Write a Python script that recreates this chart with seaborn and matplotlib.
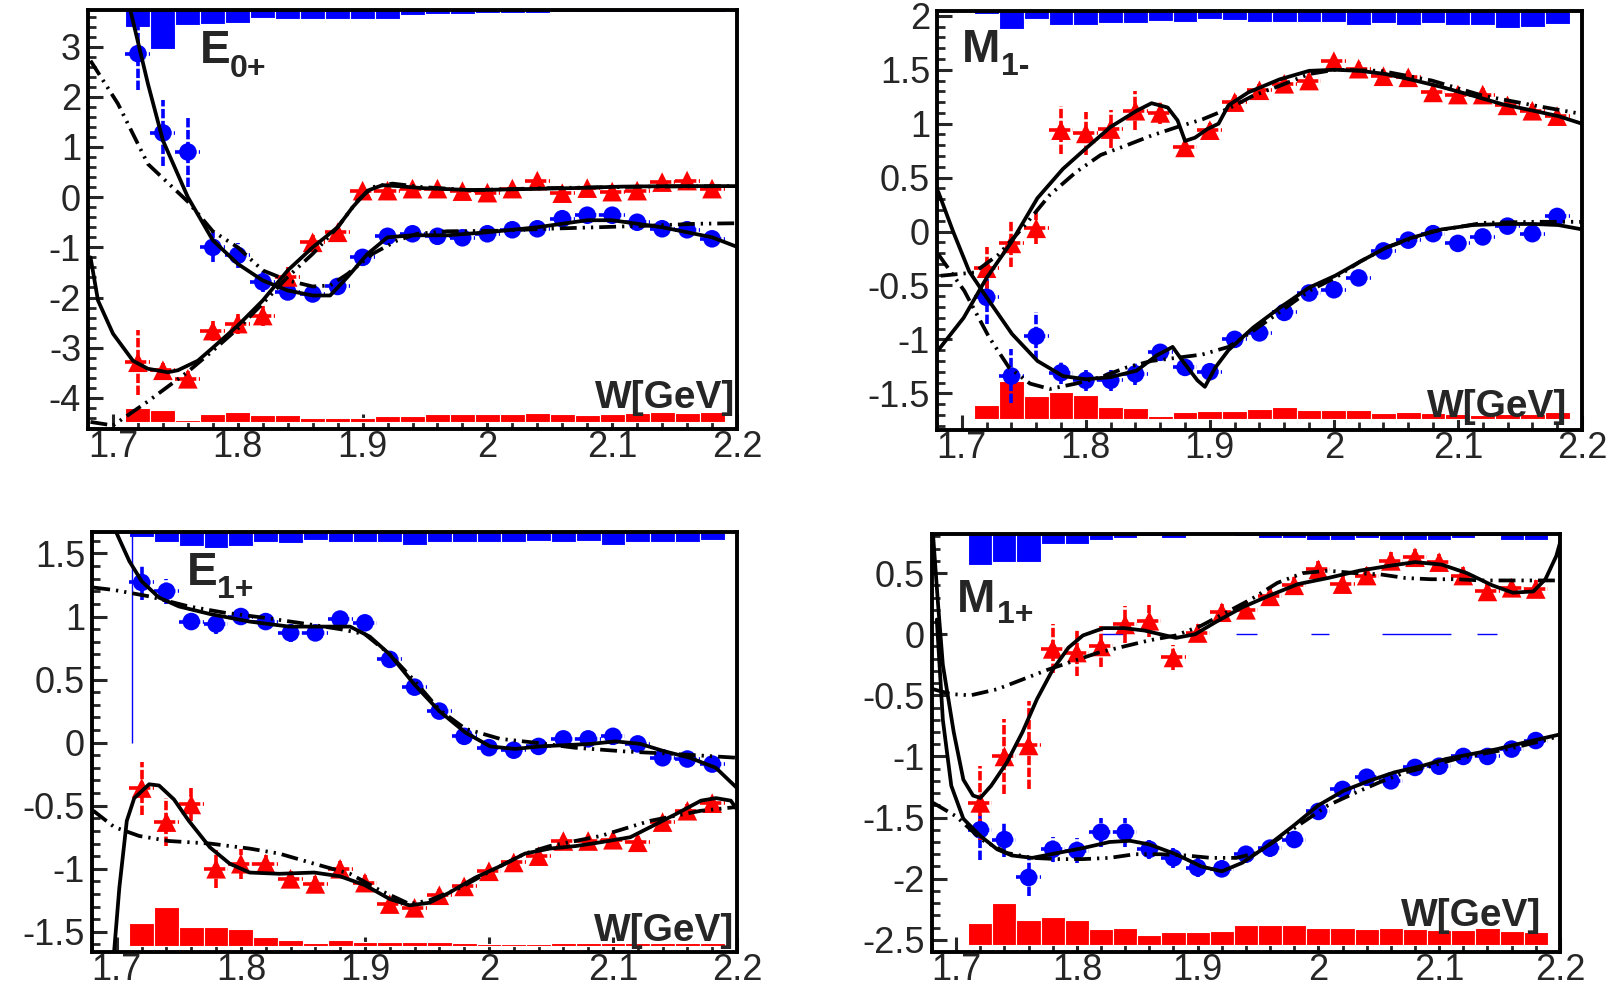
import matplotlib
matplotlib.use("Agg")
import matplotlib.pyplot as plt
import seaborn as sns
from matplotlib.ticker import MultipleLocator, FuncFormatter

# ---------------- data ----------------
W = [1.72, 1.74, 1.76, 1.78, 1.80, 1.82, 1.84, 1.86, 1.88, 1.90, 1.92, 1.94,
     1.96, 1.98, 2.00, 2.02, 2.04, 2.06, 2.08, 2.10, 2.12, 2.14, 2.16, 2.18]

# ---- E0+ ----
E0_blue = [2.86, 1.28, 0.90, -1.0, -1.16, -1.69, -1.89, -1.93, -1.78, -1.20, -0.78, -0.73,
           -0.78, -0.81, -0.73, -0.65, -0.63, -0.43, -0.36, -0.36, -0.50, -0.63, -0.65, -0.83]
E0_blue_err = [0.73, 0.65, 0.70, 0.30, 0.25, 0.20, 0.15, 0.12, 0.12, 0.12, 0.10, 0.08,
               0.08, 0.08, 0.08, 0.08, 0.08, 0.08, 0.08, 0.08, 0.08, 0.08, 0.08, 0.08]
E0_red = [-3.29, -3.45, -3.62, -2.66, -2.52, -2.36, -1.59, -0.90, -0.70, 0.13, 0.13, 0.17,
          0.17, 0.12, 0.09, 0.17, 0.33, 0.08, 0.18, 0.11, 0.13, 0.30, 0.33, 0.17]
E0_red_err = [0.65, 0.15, 0.15, 0.20, 0.20, 0.20, 0.20, 0.15, 0.12, 0.10, 0.08, 0.08,
              0.08, 0.08, 0.08, 0.08, 0.08, 0.08, 0.08, 0.08, 0.08, 0.08, 0.08, 0.08]
E0_sys_blue = [0.33, 0.78, 0.30, 0.28, 0.25, 0.15, 0.17, 0.17, 0.17, 0.17, 0.17, 0.10,
               0.08, 0.07, 0.05, 0.05, 0.05, 0.04, 0.04, 0.03, 0.03, 0.03, 0.03, 0.03]
E0_sys_red = [0.27, 0.24, 0.04, 0.15, 0.19, 0.13, 0.13, 0.07, 0.07, 0.07, 0.12, 0.12,
              0.15, 0.15, 0.15, 0.15, 0.17, 0.15, 0.13, 0.15, 0.17, 0.20, 0.17, 0.20]
E0_sys_base = -4.48
E0_blue_fit_x = [1.710, 1.714, 1.728, 1.74, 1.76, 1.78, 1.80, 1.82, 1.84, 1.86, 1.874, 1.888, 1.904,
                 1.92, 1.94, 1.968, 2.0, 2.04, 2.08, 2.10, 2.14, 2.18, 2.20]
E0_blue_fit_y = [4.2, 3.72, 2.26, 1.13, 0.0, -0.86, -1.33, -1.66, -1.86, -1.96, -1.96, -1.59, -1.13,
                 -0.80, -0.76, -0.76, -0.70, -0.60, -0.46, -0.46, -0.60, -0.80, -0.99]
E0_blue_alt_x = [1.682, 1.704, 1.728, 1.76, 1.78, 1.80, 1.82, 1.84, 1.86, 1.874, 1.888, 1.908,
                 1.928, 1.944, 1.968, 2.008, 2.048, 2.088, 2.128, 2.168, 2.20]
E0_blue_alt_y = [2.72, 1.86, 0.66, -0.09, -0.68, -1.0, -1.46, -1.66, -1.78, -1.76, -1.53, -1.13,
                 -0.86, -0.73, -0.68, -0.67, -0.63, -0.60, -0.57, -0.53, -0.52]
E0_red_fit_x = [1.682, 1.688, 1.70, 1.716, 1.728, 1.744, 1.752, 1.768, 1.78, 1.80, 1.82, 1.84,
                1.86, 1.88, 1.892, 1.904, 1.916, 1.928, 1.948, 1.988, 2.028, 2.068, 2.108, 2.148, 2.20]
E0_red_fit_y = [-1.2, -2.06, -2.72, -3.26, -3.42, -3.49, -3.45, -3.26, -3.0, -2.56, -2.06, -1.46,
                -1.0, -0.6, -0.2, 0.13, 0.24, 0.22, 0.18, 0.14, 0.16, 0.18, 0.21, 0.22, 0.22]
E0_red_alt_x = [1.682, 1.70, 1.728, 1.76, 1.78, 1.80, 1.82, 1.84, 1.86, 1.88, 1.896, 1.908,
                1.924, 1.948, 1.988, 2.048, 2.128, 2.20]
E0_red_alt_y = [-4.48, -4.55, -4.07, -3.48, -3.06, -2.62, -2.12, -1.59, -1.13, -0.6, -0.07, 0.2,
                0.27, 0.2, 0.14, 0.18, 0.21, 0.22]

# ---- M1- ----
M1m_blue = [-0.61, -1.34, -0.97, -1.31, -1.38, -1.38, -1.32, -1.12, -1.26, -1.30, -1.0, -0.94,
            -0.75, -0.57, -0.54, -0.43, -0.18, -0.08, -0.02, -0.11, -0.05, 0.05, -0.02, 0.14]
M1m_blue_err = [0.25, 0.25, 0.22, 0.10, 0.10, 0.10, 0.10, 0.08, 0.08, 0.08, 0.08, 0.07,
                0.07, 0.06, 0.06, 0.06, 0.06, 0.06, 0.06, 0.06, 0.06, 0.06, 0.05, 0.05]
M1m_red = [-0.34, -0.11, 0.03, 0.94, 0.91, 0.95, 1.12, 1.10, 0.78, 0.94, 1.20, 1.31,
           1.37, 1.40, 1.58, 1.51, 1.44, 1.43, 1.29, 1.27, 1.27, 1.17, 1.12, 1.07]
M1m_red_err = [0.20, 0.22, 0.15, 0.22, 0.20, 0.18, 0.18, 0.10, 0.08, 0.07, 0.07, 0.06,
               0.06, 0.06, 0.06, 0.06, 0.06, 0.06, 0.06, 0.06, 0.06, 0.06, 0.06, 0.06]
M1m_sys_blue = [0.03, 0.17, 0.07, 0.13, 0.13, 0.11, 0.11, 0.09, 0.10, 0.07, 0.08, 0.10,
                0.10, 0.10, 0.10, 0.13, 0.11, 0.13, 0.11, 0.13, 0.13, 0.16, 0.15, 0.12]
M1m_sys_red = [0.13, 0.35, 0.21, 0.25, 0.22, 0.11, 0.10, 0.02, 0.06, 0.07, 0.07, 0.09,
               0.11, 0.08, 0.08, 0.08, 0.05, 0.06, 0.05, 0.04, 0.03, 0.04, 0.04, 0.06]
M1m_sys_base = -1.735
M1m_red_fit_x = [1.681, 1.7015, 1.72, 1.7405, 1.761, 1.7815, 1.80, 1.82, 1.841, 1.853, 1.866, 1.874,
                 1.88, 1.888, 1.898, 1.907, 1.915, 1.931, 1.956, 1.98, 2.001, 2.021, 2.042, 2.062,
                 2.087, 2.112, 2.136, 2.161, 2.181, 2.2]
M1m_red_fit_y = [-1.10, -0.80, -0.43, -0.09, 0.31, 0.58, 0.77, 0.97, 1.12, 1.19, 1.15, 1.03,
                 0.84, 0.87, 0.95, 1.0, 1.17, 1.29, 1.41, 1.49, 1.50, 1.49, 1.46, 1.41,
                 1.34, 1.26, 1.18, 1.12, 1.07, 1.0]
M1m_red_alt_x = [1.683, 1.71, 1.73, 1.751, 1.771, 1.792, 1.812, 1.833, 1.853, 1.874, 1.894, 1.915,
                 1.935, 1.956, 1.98, 2.001, 2.038, 2.079, 2.12, 2.161, 2.2]
M1m_red_alt_y = [-0.41, -0.38, -0.21, 0.06, 0.34, 0.55, 0.71, 0.80, 0.89, 0.97, 1.04, 1.14,
                 1.26, 1.35, 1.46, 1.50, 1.49, 1.40, 1.26, 1.17, 1.09]
M1m_blue_fit_x = [1.681, 1.693, 1.706, 1.72, 1.7405, 1.761, 1.7815, 1.80, 1.82, 1.841, 1.857, 1.87,
                  1.878, 1.89, 1.896, 1.9045, 1.915, 1.935, 1.956, 1.98, 2.001, 2.021, 2.042, 2.062,
                  2.087, 2.112, 2.136, 2.161, 2.181, 2.2]
M1m_blue_fit_y = [0.37, 0.0, -0.37, -0.61, -0.95, -1.20, -1.34, -1.37, -1.35, -1.29, -1.15, -1.07,
                  -1.20, -1.38, -1.44, -1.26, -1.10, -0.89, -0.71, -0.52, -0.41, -0.28, -0.15, -0.06,
                  0.02, 0.06, 0.07, 0.07, 0.06, 0.02]
M1m_blue_alt_x = [1.681, 1.702, 1.722, 1.738, 1.755, 1.771, 1.792, 1.812, 1.833, 1.853, 1.874, 1.894,
                  1.915, 1.935, 1.956, 1.98, 2.001, 2.021, 2.042, 2.079, 2.12, 2.161, 2.2]
M1m_blue_alt_y = [-0.21, -0.55, -0.98, -1.26, -1.41, -1.46, -1.41, -1.35, -1.26, -1.20, -1.17, -1.14,
                  -1.07, -0.92, -0.75, -0.55, -0.43, -0.28, -0.15, 0.0, 0.08, 0.09, 0.09]

# ---- E1+ ----
E1p_blue = [1.27, 1.20, 0.96, 0.94, 1.0, 0.96, 0.87, 0.87, 0.98, 0.95, 0.66, 0.44,
            0.25, 0.05, -0.04, -0.06, -0.03, 0.03, 0.03, 0.05, -0.01, -0.12, -0.13, -0.17]
E1p_blue_err = [0.14, 0.10, 0.07, 0.08, 0.07, 0.07, 0.07, 0.06, 0.05, 0.05, 0.05, 0.05,
                0.05, 0.05, 0.05, 0.05, 0.05, 0.05, 0.05, 0.05, 0.05, 0.05, 0.05, 0.05]
E1p_red = [-0.36, -0.63, -0.49, -1.0, -0.96, -0.96, -1.08, -1.12, -1.0, -1.11, -1.28, -1.31,
           -1.21, -1.14, -1.02, -0.95, -0.90, -0.78, -0.78, -0.77, -0.79, -0.63, -0.54, -0.48]
E1p_red_err = [0.21, 0.19, 0.13, 0.15, 0.12, 0.07, 0.06, 0.06, 0.06, 0.06, 0.05, 0.05,
               0.05, 0.05, 0.05, 0.05, 0.05, 0.05, 0.05, 0.05, 0.05, 0.05, 0.05, 0.05]
E1p_sys_blue = [0.04, 0.08, 0.11, 0.13, 0.11, 0.08, 0.09, 0.06, 0.08, 0.08, 0.08, 0.10,
                0.08, 0.08, 0.08, 0.08, 0.07, 0.08, 0.07, 0.10, 0.08, 0.08, 0.08, 0.06]
E1p_sys_red = [0.18, 0.31, 0.15, 0.15, 0.13, 0.07, 0.045, 0.02, 0.045, 0.03, 0.03, 0.03,
               0.03, 0.02, 0.01, 0.01, 0.01, 0.02, 0.02, 0.02, 0.02, 0.02, 0.02, 0.02]
E1p_sys_base = -1.61
E1p_blue_fit_x = [1.698, 1.71, 1.72, 1.734, 1.75, 1.775, 1.807, 1.839, 1.863, 1.888, 1.904, 1.92,
                  1.94, 1.96, 1.981, 2.001, 2.021, 2.041, 2.061, 2.082, 2.102, 2.122, 2.142, 2.162,
                  2.183, 2.2]
E1p_blue_fit_y = [1.70, 1.44, 1.28, 1.15, 1.08, 1.02, 0.96, 0.92, 0.92, 0.92, 0.84, 0.70,
                  0.46, 0.25, 0.08, -0.03, -0.05, -0.03, -0.02, -0.01, 0.01, -0.01, -0.07, -0.12,
                  -0.2, -0.36]
E1p_blue_alt_x = [1.681, 1.698, 1.726, 1.758, 1.787, 1.819, 1.847, 1.88, 1.90, 1.92, 1.94, 1.96,
                  1.981, 2.009, 2.037, 2.069, 2.11, 2.15, 2.2]
E1p_blue_alt_y = [1.23, 1.21, 1.16, 1.08, 1.03, 0.99, 0.95, 0.90, 0.86, 0.70, 0.49, 0.26,
                  0.11, 0.03, 0.0, -0.04, -0.07, -0.09, -0.12]
E1p_red_fit_x = [1.697, 1.702, 1.708, 1.714, 1.726, 1.734, 1.746, 1.758, 1.775, 1.791, 1.807, 1.831,
                 1.859, 1.88, 1.90, 1.92, 1.936, 1.952, 1.968, 1.989, 2.009, 2.029, 2.049, 2.07,
                 2.09, 2.114, 2.13, 2.15, 2.171, 2.183, 2.195, 2.2]
E1p_red_fit_y = [-1.75, -1.15, -0.62, -0.44, -0.33, -0.34, -0.45, -0.62, -0.83, -0.96, -1.03, -1.04,
                 -1.03, -1.06, -1.13, -1.24, -1.29, -1.27, -1.19, -1.07, -0.98, -0.88, -0.84, -0.82,
                 -0.79, -0.75, -0.67, -0.57, -0.46, -0.44, -0.46, -0.53]
E1p_red_alt_x = [1.681, 1.698, 1.718, 1.742, 1.775, 1.807, 1.831, 1.859, 1.888, 1.912, 1.936, 1.952,
                 1.977, 2.001, 2.029, 2.049, 2.09, 2.13, 2.171, 2.2]
E1p_red_alt_y = [-0.54, -0.67, -0.74, -0.78, -0.80, -0.84, -0.88, -0.96, -1.04, -1.17, -1.28, -1.25,
                 -1.15, -1.02, -0.88, -0.82, -0.74, -0.62, -0.54, -0.51]

# ---- M1+ ----
M1p_blue = [-1.60, -1.68, -1.99, -1.76, -1.77, -1.62, -1.62, -1.76, -1.83, -1.91, -1.92, -1.80,
            -1.75, -1.68, -1.45, -1.27, -1.17, -1.20, -1.09, -1.08, -1.0, -1.0, -0.94, -0.87]
M1p_blue_err = [0.25, 0.14, 0.15, 0.10, 0.10, 0.12, 0.12, 0.08, 0.08, 0.08, 0.07, 0.07,
                0.07, 0.07, 0.07, 0.07, 0.07, 0.06, 0.06, 0.06, 0.06, 0.06, 0.06, 0.06]
M1p_red = [-1.38, -1.0, -0.91, -0.12, -0.15, -0.10, 0.08, 0.11, -0.19, 0.01, 0.18, 0.20,
           0.31, 0.40, 0.53, 0.41, 0.48, 0.60, 0.63, 0.59, 0.48, 0.35, 0.38, 0.37]
M1p_red_err = [0.30, 0.31, 0.36, 0.20, 0.19, 0.17, 0.15, 0.13, 0.10, 0.07, 0.07, 0.07,
               0.07, 0.07, 0.07, 0.07, 0.07, 0.07, 0.07, 0.07, 0.07, 0.07, 0.07, 0.07]
M1p_sys_blue = [0.25, 0.23, 0.23, 0.08, 0.08, 0.05, 0.035, 0.02, 0.035, 0.01, 0.01, 0.02,
                0.035, 0.035, 0.05, 0.045, 0.035, 0.05, 0.05, 0.05, 0.035, 0.02, 0.045, 0.045]
M1p_sys_red = [0.18, 0.34, 0.20, 0.23, 0.20, 0.13, 0.14, 0.08, 0.10, 0.10, 0.11, 0.16,
               0.16, 0.16, 0.14, 0.14, 0.13, 0.14, 0.13, 0.12, 0.12, 0.14, 0.11, 0.10]
M1p_sys_base = -2.54
M1p_red_fit_x = [1.681, 1.685, 1.689, 1.698, 1.706, 1.714, 1.72, 1.729, 1.742, 1.755, 1.767, 1.78,
                 1.793, 1.805, 1.822, 1.839, 1.856, 1.869, 1.882, 1.898, 1.915, 1.937, 1.958, 1.983,
                 2.008, 2.034, 2.059, 2.08, 2.102, 2.123, 2.144, 2.161, 2.178, 2.188, 2.197, 2.201]
M1p_red_fit_y = [0.80, 0.25, -0.25, -0.80, -1.19, -1.32, -1.34, -1.24, -1.05, -0.80, -0.53, -0.29,
                 -0.11, -0.01, 0.05, 0.05, 0.03, 0.0, -0.03, 0.0, 0.10, 0.22, 0.31, 0.41,
                 0.46, 0.52, 0.56, 0.59, 0.57, 0.50, 0.40, 0.34, 0.35, 0.45, 0.64, 0.78]
M1p_red_alt_x = [1.681, 1.696, 1.712, 1.734, 1.755, 1.776, 1.797, 1.818, 1.839, 1.86, 1.882, 1.903,
                 1.924, 1.945, 1.966, 1.987, 2.008, 2.03, 2.051, 2.072, 2.093, 2.114, 2.135, 2.157,
                 2.178, 2.201]
M1p_red_alt_y = [-0.45, -0.49, -0.50, -0.45, -0.37, -0.29, -0.22, -0.15, -0.10, -0.05, -0.01, 0.07,
                 0.18, 0.29, 0.42, 0.50, 0.52, 0.50, 0.49, 0.46, 0.45, 0.45, 0.44, 0.44,
                 0.44, 0.44]
M1p_blue_fit_x = [1.684, 1.689, 1.696, 1.706, 1.72, 1.734, 1.746, 1.763, 1.784, 1.805, 1.827, 1.844,
                  1.86, 1.882, 1.903, 1.92, 1.937, 1.958, 1.979, 2.0, 2.021, 2.042, 2.063, 2.085,
                  2.106, 2.127, 2.148, 2.169, 2.2]
M1p_blue_fit_y = [0.12, -0.70, -1.24, -1.51, -1.65, -1.76, -1.81, -1.83, -1.79, -1.75, -1.70, -1.69,
                  -1.72, -1.80, -1.90, -1.94, -1.87, -1.73, -1.57, -1.40, -1.28, -1.20, -1.13, -1.08,
                  -1.02, -0.98, -0.94, -0.89, -0.82]
M1p_blue_alt_x = [1.681, 1.70, 1.721, 1.742, 1.763, 1.784, 1.805, 1.827, 1.848, 1.869, 1.89, 1.911,
                  1.932, 1.949, 1.966, 1.987, 2.008, 2.03, 2.051, 2.072, 2.093, 2.114, 2.135, 2.157,
                  2.178, 2.201]
M1p_blue_alt_y = [-1.38, -1.49, -1.68, -1.79, -1.83, -1.84, -1.84, -1.83, -1.80, -1.80, -1.81, -1.83,
                  -1.83, -1.79, -1.68, -1.54, -1.40, -1.30, -1.21, -1.13, -1.08, -1.02, -0.98, -0.94,
                  -0.89, -0.83]
M1p_blue_zero_lo = [1.820, 1.932, 1.994, 2.053, 2.131]
M1p_blue_zero_hi = [1.839, 1.949, 2.009, 2.110, 2.148]
E1p_blue_edge = 1.712

# ---------------- style ----------------
sns.set_style("ticks")
plt.rcParams['font.family'] = ['Liberation Sans', 'DejaVu Sans']
plt.rcParams['axes.unicode_minus'] = False

fig = plt.figure(figsize=(16.18, 9.9), dpi=100)

BLUE = (0, 0, 1)
RED = (1, 0, 0)
DDOT = (0, (4.5, 1.6, 0.6, 1.6, 0.6, 1.6))

panels = [
    dict(rect=[0.0544, 0.5667, 0.4011, 0.4232], ylim=(-4.62, 3.73), major=1, minor=0.2,
         blue=E0_blue, blue_err=E0_blue_err, red=E0_red, red_err=E0_red_err,
         sys_blue=E0_sys_blue, sys_red=E0_sys_red, base=E0_sys_base,
         curves=[(E0_blue_fit_x, E0_blue_fit_y, '-'), (E0_blue_alt_x, E0_blue_alt_y, DDOT),
                 (E0_red_fit_x, E0_red_fit_y, '-'), (E0_red_alt_x, E0_red_alt_y, DDOT)],
         main='E', sub='0+', main_xy=(0.1726, 0.8735), sub_xy=(0.2190, 0.840),
         wlab=(0.997, 0.050)),
    dict(rect=[0.5791, 0.5657, 0.3986, 0.4232], ylim=(-1.84, 2.045), major=0.5, minor=0.1,
         blue=M1m_blue, blue_err=M1m_blue_err, red=M1m_red, red_err=M1m_red_err,
         sys_blue=M1m_sys_blue, sys_red=M1m_sys_red, base=M1m_sys_base,
         curves=[(M1m_blue_fit_x, M1m_blue_fit_y, '-'), (M1m_blue_alt_x, M1m_blue_alt_y, DDOT),
                 (M1m_red_fit_x, M1m_red_fit_y, '-'), (M1m_red_alt_x, M1m_red_alt_y, DDOT)],
         main='M', sub='1-', main_xy=(0.0388, 0.878), sub_xy=(0.100, 0.847),
         wlab=(0.977, 0.030)),
    dict(rect=[0.0569, 0.0384, 0.3986, 0.4242], ylim=(-1.66, 1.67), major=0.5, minor=0.1,
         blue=E1p_blue, blue_err=E1p_blue_err, red=E1p_red, red_err=E1p_red_err,
         sys_blue=E1p_sys_blue, sys_red=E1p_sys_red, base=E1p_sys_base,
         curves=[(E1p_blue_fit_x, E1p_blue_fit_y, '-'), (E1p_blue_alt_x, E1p_blue_alt_y, DDOT),
                 (E1p_red_fit_x, E1p_red_fit_y, '-'), (E1p_red_alt_x, E1p_red_alt_y, DDOT)],
         main='E', sub='1+', main_xy=(0.147, 0.874), sub_xy=(0.194, 0.843),
         wlab=(0.995, 0.026)),
    dict(rect=[0.5760, 0.0384, 0.3881, 0.4222], ylim=(-2.6, 0.82), major=0.5, minor=0.1,
         blue=M1p_blue, blue_err=M1p_blue_err, red=M1p_red, red_err=M1p_red_err,
         sys_blue=M1p_sys_blue, sys_red=M1p_sys_red, base=M1p_sys_base,
         curves=[(M1p_blue_fit_x, M1p_blue_fit_y, '-'), (M1p_blue_alt_x, M1p_blue_alt_y, DDOT),
                 (M1p_red_fit_x, M1p_red_fit_y, '-'), (M1p_red_alt_x, M1p_red_alt_y, DDOT)],
         main='M', sub='1+', main_xy=(0.040, 0.813), sub_xy=(0.103, 0.787),
         wlab=(0.970, 0.062)),
]

fmt = FuncFormatter(lambda v, p: f"{round(v, 3):g}" if abs(v) > 1e-9 else "0")

for i, P in enumerate(panels):
    ax = fig.add_axes(P['rect'])
    y0, y1 = P['ylim']
    ax.set_xlim(1.68, 2.2)
    ax.set_ylim(y0, y1)

    # systematic-error histograms
    ax.bar(W, P['sys_red'], width=0.02, bottom=P['base'], color=RED,
           edgecolor='white', linewidth=0.8, zorder=1)
    ax.bar(W, P['sys_blue'], width=0.02, bottom=[y1 - h for h in P['sys_blue']],
           color=BLUE, edgecolor='white', linewidth=0.8, zorder=1)
    if i == 2:
        ax.vlines(E1p_blue_edge, 0, y1, color=BLUE, lw=1.0, zorder=1)
    if i == 3:
        ax.hlines([0] * len(M1p_blue_zero_lo), M1p_blue_zero_lo, M1p_blue_zero_hi,
                  color=BLUE, lw=1.0, zorder=1)

    # error bars (dashed)
    for vals, errs, col in ((P['blue'], P['blue_err'], BLUE), (P['red'], P['red_err'], RED)):
        cont = ax.errorbar(W, vals, yerr=errs, xerr=0.01, fmt='none', ecolor=col,
                           elinewidth=2.6, capsize=0, zorder=2)
        for lc in cont.lines[2]:
            lc.set_linestyle((0, (2.6, 0.7)))

    # markers
    sns.scatterplot(x=W, y=P['blue'], ax=ax, marker='o', s=160, color=BLUE,
                    edgecolor='none', linewidth=0, zorder=3, legend=False)
    sns.scatterplot(x=W, y=P['red'], ax=ax, marker='^', s=200, color=RED,
                    edgecolor='none', linewidth=0, zorder=3, legend=False)

    # model curves
    for cx, cy, ls in P['curves']:
        sns.lineplot(x=cx, y=cy, ax=ax, color='black', sort=False, estimator=None,
                     linewidth=2.7, zorder=4, legend=False)
        ax.lines[-1].set_linestyle(ls)

    # axes styling
    for sp in ax.spines.values():
        sp.set_linewidth(2.8)
        sp.set_color('black')
        sp.set_visible(True)
    ax.xaxis.set_major_locator(MultipleLocator(0.1))
    ax.xaxis.set_minor_locator(MultipleLocator(0.02))
    ax.yaxis.set_major_locator(MultipleLocator(P['major']))
    ax.yaxis.set_minor_locator(MultipleLocator(P['minor']))
    ax.xaxis.set_major_formatter(fmt)
    ax.yaxis.set_major_formatter(fmt)
    ax.tick_params(which='major', direction='in', length=11, width=2.2, labelsize=26,
                   top=False, right=False)
    ax.tick_params(axis='x', which='major', pad=1)
    ax.tick_params(axis='y', which='major', pad=5)
    ax.tick_params(which='minor', direction='in', length=6, width=2.0, top=False, right=False)
    ax.set_xlabel('')
    ax.set_ylabel('')
    ax.grid(False)

    # labels
    ax.text(P['main_xy'][0], P['main_xy'][1], P['main'], transform=ax.transAxes,
            fontsize=33, fontweight='bold', ha='left', va='baseline', zorder=6)
    ax.text(P['sub_xy'][0], P['sub_xy'][1], P['sub'], transform=ax.transAxes,
            fontsize=23, fontweight='bold', ha='left', va='baseline', zorder=6)
    ax.text(P['wlab'][0], P['wlab'][1], 'W[GeV]', transform=ax.transAxes,
            fontsize=28, fontweight='bold', ha='right', va='baseline', zorder=6)

fig.savefig('out.png', dpi=100)
